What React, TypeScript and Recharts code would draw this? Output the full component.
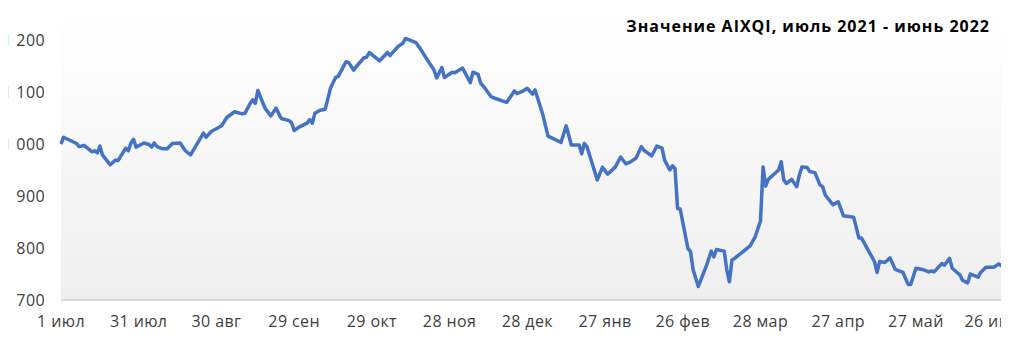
import { LineChart, Line, XAxis, YAxis, CartesianGrid } from 'recharts'

// дни от 1 июля 2021
const days = [
  0, 1, 6, 7, 9, 12, 13, 14, 15, 16, 19, 21, 22, 25, 26, 27, 28, 29, 32, 34,
  35, 36, 37, 39, 41, 43, 46, 48, 50, 55, 56, 58, 62, 64, 67, 70, 71, 73, 74, 75,
  76, 78, 79, 81, 83, 85, 88, 89, 90, 92, 95, 96, 97, 98, 100, 102, 104, 106, 107, 110,
  111, 113, 114, 117, 118, 119, 123, 126, 127, 130, 132, 133, 137, 139, 141, 144, 145, 147, 148, 151,
  152, 155, 158, 159, 161, 162, 164, 166, 168, 172, 175, 176, 178, 180, 182, 183, 186, 188, 193, 195,
  197, 200, 201, 202, 203, 205, 207, 209, 211, 214, 216, 218, 220, 222, 224, 225, 228, 230, 232, 233,
  235, 236, 237, 238, 239, 242, 243, 244, 246, 249, 251, 252, 253, 256, 257, 258, 259, 260, 266, 268,
  270, 271, 272, 273, 277, 278, 279, 280, 282, 284, 285, 286, 288, 289, 291, 293, 294, 295, 298, 300,
  302, 306, 308, 309, 314, 315, 316, 318, 320, 322, 325, 327, 328, 330, 333, 335, 336, 337, 340, 341,
  343, 344, 347, 348, 350, 351, 354, 355, 357, 360, 362, 364,
]

const values = [
  1000, 1013, 1001, 995, 997, 985, 987, 983, 996, 979, 960, 969, 968, 992, 987, 1002, 1009, 994, 1002, 999,
  994, 1002, 995, 991, 991, 1001, 1002, 987, 979, 1021, 1013, 1024, 1035, 1051, 1062, 1058, 1059, 1078, 1085, 1078,
  1103, 1078, 1067, 1054, 1069, 1049, 1045, 1041, 1026, 1033, 1040, 1047, 1040, 1059, 1065, 1067, 1107, 1128, 1130, 1158,
  1157, 1142, 1149, 1166, 1167, 1176, 1160, 1176, 1170, 1187, 1194, 1203, 1195, 1181, 1165, 1142, 1127, 1147, 1128, 1138,
  1137, 1146, 1118, 1138, 1134, 1117, 1105, 1091, 1087, 1080, 1102, 1097, 1101, 1107, 1096, 1104, 1056, 1015, 1003, 1035,
  998, 998, 981, 1001, 995, 963, 931, 955, 942, 956, 975, 962, 966, 973, 995, 988, 977, 996, 992, 969,
  950, 958, 953, 876, 875, 799, 793, 758, 726, 764, 794, 783, 797, 794, 758, 735, 777, 780, 804, 822,
  852, 956, 919, 932, 950, 966, 931, 924, 932, 918, 940, 956, 955, 947, 945, 921, 918, 902, 883, 889,
  862, 859, 819, 819, 774, 753, 774, 772, 781, 759, 753, 730, 730, 761, 758, 754, 756, 754, 770, 767,
  780, 761, 748, 738, 733, 750, 744, 753, 763, 763, 769, 763,
]

const tickDays = [0, 30, 60, 90, 120, 150, 180, 210, 240, 270, 300, 330, 360]
const tickLabels = [
  '1 июл', '31 июл', '30 авг', '29 сен', '29 окт', '28 ноя', '28 дек',
  '27 янв', '26 фев', '28 мар', '27 апр', '27 май', '26 июн',
]
const yTicks = [700, 800, 900, 1000, 1100, 1200]

const data = days.map((d, i) => ({ day: d, value: values[i] }))

const font = '"Open Sans", sans-serif'

const formatY = (v: number) =>
  v >= 1000 ? `${Math.floor(v / 1000)} ${String(v % 1000).padStart(3, '0')}` : String(v)

const formatX = (v: number) => tickLabels[tickDays.indexOf(v)] ?? ''

const tickStyle = { fill: '#404040', fontSize: 16, fontFamily: font, letterSpacing: 0.4 }

// своя подпись по оси Y, без переноса строк от recharts
const YTick = (props: any) => {
  const { y, payload } = props
  return (
    <text
      x={45}
      y={y}
      dy="0.355em"
      textAnchor="end"
      fill="#404040"
      fontSize={16}
      fontFamily={font}
      letterSpacing={0.4}
    >
      {formatY(payload.value)}
    </text>
  )
}

export default function App() {
  // отрицательный отступ убирает margin у body
  return (
    <div style={{ position: 'relative', width: 1009, height: 352, margin: -8, fontFamily: font }}>
      <LineChart
        width={1009}
        height={352}
        data={data}
        margin={{ top: 14, right: 5, bottom: 22, left: 0 }}
      >
        <defs>
          <linearGradient id="bg" x1="0" y1="0" x2="0" y2="1">
            <stop offset="0%" stopColor="#ffffff" />
            <stop offset="100%" stopColor="#efefef" />
          </linearGradient>
        </defs>
        <CartesianGrid horizontal={false} vertical={false} fill="url(#bg)" />
        <XAxis
          dataKey="day"
          type="number"
          domain={[0, 364]}
          ticks={tickDays}
          interval={0}
          tickFormatter={formatX}
          tickLine={false}
          axisLine={{ stroke: '#d9d9d9', strokeWidth: 2 }}
          tickMargin={10}
          tick={tickStyle}
        />
        <YAxis
          type="number"
          domain={[700, 1250]}
          ticks={yTicks}
          interval={0}
          width={61}
          tickLine={false}
          axisLine={false}
          tick={<YTick />}
        />
        <Line
          type="linear"
          dataKey="value"
          stroke="#4472c4"
          strokeWidth={3.5}
          strokeLinejoin="round"
          dot={false}
          isAnimationActive={false}
        />
      </LineChart>
      <div
        style={{
          position: 'absolute',
          top: 15,
          right: 19,
          fontSize: 16,
          fontWeight: 700,
          letterSpacing: 1,
          color: '#000',
          whiteSpace: 'nowrap',
        }}
      >
        Значение AIXQI, июль 2021 - июнь 2022
      </div>
    </div>
  )
}
